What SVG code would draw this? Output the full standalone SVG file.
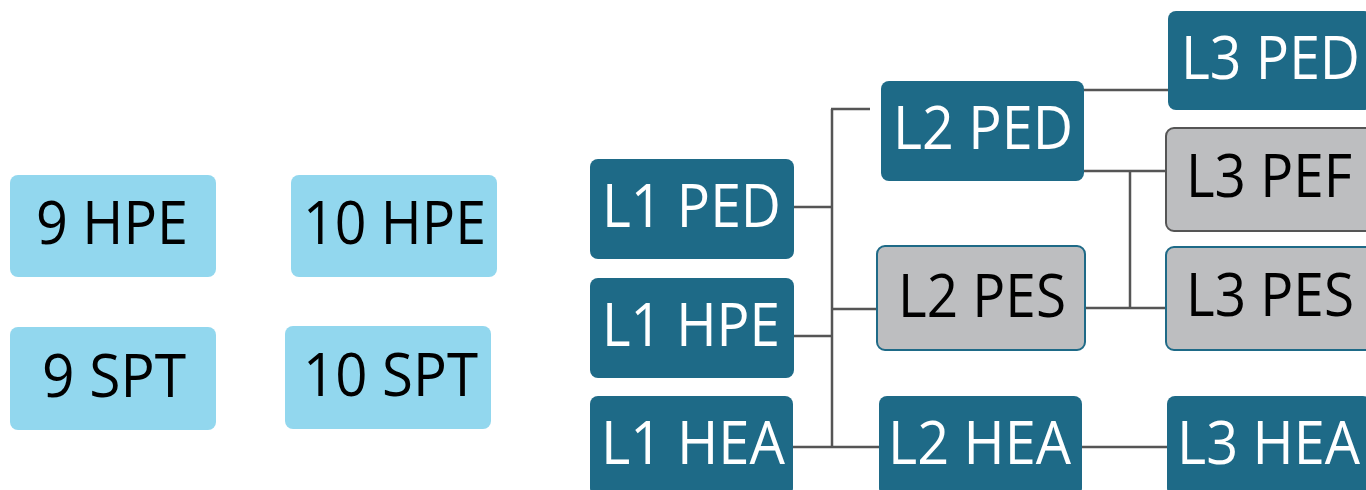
<svg xmlns="http://www.w3.org/2000/svg" width="1366" height="490" viewBox="0 0 1366 490">
<style>
.lb{fill:#92D7EE}
.dk{fill:#1E6A87}
.gt{fill:#BDBEC0;stroke:#1E6A87;stroke-width:2}
.gg{fill:#BDBEC0;stroke:#555555;stroke-width:2}
text{font-family:"Open Sans","Liberation Sans",sans-serif;font-size:60px}
.w{fill:#FFFFFF}
.b{fill:#000000}
.c line{stroke:#555555;stroke-width:2.5;fill:none}
</style>
<rect width="1366" height="490" fill="#FFFFFF"/>
<g id="n9hpe"><rect class="lb" x="10" y="175" width="206" height="102" rx="8"/><text class="b" x="36" y="244" textLength="152" lengthAdjust="spacingAndGlyphs">9 HPE</text></g>
<g id="n10hpe"><rect class="lb" x="291" y="175" width="206" height="102" rx="8"/><text class="b" x="303" y="244" textLength="183" lengthAdjust="spacingAndGlyphs">10 HPE</text></g>
<g id="n9spt"><rect class="lb" x="10" y="327" width="206" height="103" rx="8"/><text class="b" x="42" y="397" textLength="144" lengthAdjust="spacingAndGlyphs">9 SPT</text></g>
<g id="n10spt"><rect class="lb" x="285" y="326" width="206" height="103" rx="8"/><text class="b" x="303" y="396" textLength="175" lengthAdjust="spacingAndGlyphs">10 SPT</text></g>

<g class="c" id="connectors">
<line x1="793" y1="207" x2="832" y2="207"/>
<line x1="793" y1="336" x2="832" y2="336"/>
<line x1="793" y1="447" x2="879" y2="447"/>
<line x1="832" y1="109" x2="832" y2="447"/>
<line x1="831" y1="109" x2="870" y2="109"/>
<line x1="831" y1="309" x2="877" y2="309"/>
<line x1="1083" y1="90" x2="1168" y2="90"/>
<line x1="1083" y1="171" x2="1173" y2="171"/>
<line x1="1130" y1="171" x2="1130" y2="309"/>
<line x1="1084" y1="308" x2="1169" y2="308"/>
<line x1="1081" y1="447" x2="1167" y2="447"/>
</g>

<g id="l1ped"><rect class="dk" x="590" y="159" width="204" height="100" rx="8"/><text class="w" x="602" y="227" textLength="179" lengthAdjust="spacingAndGlyphs">L1 PED</text></g>
<g id="l1hpe"><rect class="dk" x="590" y="278" width="204" height="100" rx="8"/><text class="w" x="602" y="346" textLength="178" lengthAdjust="spacingAndGlyphs">L1 HPE</text></g>
<g id="l1hea"><rect class="dk" x="590" y="396" width="203" height="100" rx="8"/><text class="w" x="601" y="464" textLength="184" lengthAdjust="spacingAndGlyphs">L1 HEA</text></g>
<g id="l2ped"><rect class="dk" x="881" y="81" width="203" height="100" rx="8"/><text class="w" x="893" y="149" textLength="180" lengthAdjust="spacingAndGlyphs">L2 PED</text></g>
<g id="l2pes"><rect class="gt" x="877" y="246" width="208" height="104" rx="8"/><text class="b" x="898" y="317" textLength="168" lengthAdjust="spacingAndGlyphs">L2 PES</text></g>
<g id="l2hea"><rect class="dk" x="879" y="396" width="203" height="100" rx="8"/><text class="w" x="888" y="464" textLength="183" lengthAdjust="spacingAndGlyphs">L2 HEA</text></g>
<g id="l3ped"><rect class="dk" x="1168" y="11" width="204" height="99" rx="8"/><text class="w" x="1181" y="79" textLength="179" lengthAdjust="spacingAndGlyphs">L3 PED</text></g>
<g id="l3pef"><rect class="gg" x="1166" y="128" width="208" height="103" rx="8"/><text class="b" x="1186" y="197" textLength="166" lengthAdjust="spacingAndGlyphs">L3 PEF</text></g>
<g id="l3pes"><rect class="gt" x="1166" y="247" width="208" height="103" rx="8"/><text class="b" x="1186" y="316" textLength="168" lengthAdjust="spacingAndGlyphs">L3 PES</text></g>
<g id="l3hea"><rect class="dk" x="1167" y="396" width="204" height="100" rx="8"/><text class="w" x="1177" y="464" textLength="183" lengthAdjust="spacingAndGlyphs">L3 HEA</text></g>
</svg>
